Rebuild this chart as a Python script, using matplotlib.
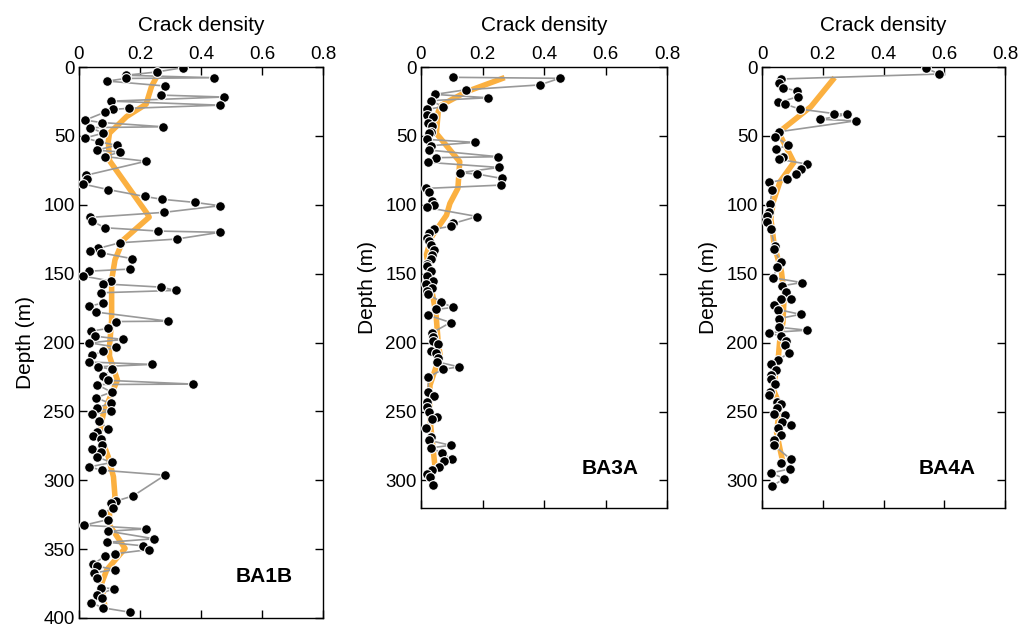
import matplotlib
matplotlib.use("Agg")
import matplotlib.pyplot as plt

plt.rcParams['font.family'] = ['Liberation Sans', 'DejaVu Sans']

# ---------------- data ----------------
ba1b_depth = [0.5, 3.6, 6, 7.8, 8.3, 10.2, 13.8, 20.4, 21.8, 24.8, 27.7, 30, 30.8, 32.8, 38.6, 40.3,
              43.4, 44, 48, 51.5, 54.4, 56.8, 60.4, 61.7, 65, 68.4, 78.6, 81.3, 85, 89, 94, 96,
              98.3, 100.7, 105.5, 109.2, 111.8, 116.7, 119.1, 120, 124.9, 127.6, 131.7, 133.4,
              134.8, 139.2, 146.7, 148.2, 151.8, 155.4, 157.4, 159.8, 162.2, 163.9, 171.4, 173.6,
              177.9, 184.5, 184.8, 189.8, 191.8, 195.4, 197.8, 200.2, 203.3, 206.3, 209.4, 214.2,
              215.9, 217.6, 219.6, 224.2, 227.5, 230.2, 230.5, 236, 240.2, 244.2, 247.4, 249.8,
              252.2, 256.8, 263.1, 264.8, 268, 270.4, 274.5, 277.4, 279.4, 283, 287.1, 290.3,
              292.7, 296.3, 311.3, 315.2, 316.2, 320.5, 324.1, 328.5, 332.6, 335.3, 337, 342.5,
              345, 347.6, 350.3, 353.4, 355.1, 360.9, 362.4, 364.8, 367.2, 370.6, 377.9, 378.8,
              383, 385.6, 388.8, 392.6, 395.8]
ba1b_crack = [0.34, 0.255, 0.154, 0.443, 0.154, 0.093, 0.283, 0.268, 0.475, 0.104, 0.462, 0.164,
              0.11, 0.085, 0.02, 0.074, 0.276, 0.036, 0.08, 0.02, 0.067, 0.123, 0.058, 0.134,
              0.085, 0.22, 0.023, 0.025, 0.014, 0.096, 0.216, 0.271, 0.38, 0.462, 0.28, 0.036,
              0.042, 0.085, 0.26, 0.462, 0.32, 0.134, 0.063, 0.036, 0.071, 0.175, 0.167, 0.034,
              0.014, 0.105, 0.078, 0.269, 0.317, 0.071, 0.078, 0.034, 0.056, 0.291, 0.12, 0.096,
              0.038, 0.052, 0.145, 0.034, 0.12, 0.078, 0.044, 0.034, 0.238, 0.063, 0.109, 0.08,
              0.096, 0.375, 0.058, 0.107, 0.055, 0.104, 0.058, 0.104, 0.044, 0.066, 0.096, 0.058,
              0.047, 0.072, 0.077, 0.044, 0.072, 0.058, 0.107, 0.034, 0.074, 0.282, 0.178, 0.12,
              0.104, 0.113, 0.074, 0.096, 0.017, 0.22, 0.096, 0.247, 0.093, 0.209, 0.23, 0.118,
              0.085, 0.047, 0.058, 0.118, 0.05, 0.058, 0.071, 0.115, 0.06, 0.077, 0.039, 0.078,
              0.167]
ba1b_mean_depth = [7, 14, 27, 36, 48, 54, 68, 106, 109, 125.6, 140, 154.6, 169, 183.7, 203, 210,
                   227.3, 237, 251.5, 266, 283, 297.5, 312, 324, 332.6, 349.5, 365, 375, 392]
ba1b_mean_crack = [0.255, 0.238, 0.22, 0.156, 0.1, 0.096, 0.1, 0.222, 0.23, 0.145, 0.118, 0.107,
                   0.107, 0.107, 0.1, 0.1, 0.126, 0.107, 0.08, 0.067, 0.096, 0.113, 0.118, 0.1,
                   0.1, 0.151, 0.091, 0.074, 0.085]

ba3a_depth = [7.5, 8.2, 13, 16.5, 19.9, 22.3, 24.4, 28.8, 30.7, 34.9, 36.3, 40.4, 42.8, 47, 48.2,
              52.5, 54.7, 57.1, 60.3, 65.1, 65.8, 69.2, 72.9, 76.7, 77.7, 80.9, 85.7, 88.1, 90.8,
              97.3, 100.2, 101.9, 108.5, 113.5, 115.5, 117.7, 120.1, 124.4, 126.1, 129.3, 133,
              136.1, 139, 142.6, 144.3, 148.2, 151.5, 155.4, 157.8, 160.2, 162.4, 164.8, 170.4,
              174.5, 175.9, 180.1, 185.4, 193, 195.8, 198.5, 200.7, 206, 207.5, 211, 214, 217.6,
              219.3, 225, 235.8, 238.4, 243, 246.7, 250.3, 253.9, 255.6, 261.9, 268.5, 270.9,
              274.5, 276.4, 279.8, 284.7, 286.1, 290.2, 292.2, 295, 297.5, 303.6]
ba3a_crack = [0.105, 0.451, 0.386, 0.146, 0.045, 0.218, 0.032, 0.072, 0.021, 0.021, 0.04, 0.023,
              0.035, 0.031, 0.027, 0.018, 0.175, 0.031, 0.027, 0.251, 0.049, 0.024, 0.254, 0.126,
              0.183, 0.264, 0.259, 0.016, 0.027, 0.035, 0.042, 0.018, 0.183, 0.105, 0.099, 0.042,
              0.027, 0.021, 0.027, 0.031, 0.042, 0.035, 0.031, 0.018, 0.021, 0.031, 0.018, 0.038,
              0.016, 0.035, 0.018, 0.024, 0.064, 0.103, 0.049, 0.024, 0.096, 0.035, 0.038, 0.04,
              0.056, 0.033, 0.049, 0.056, 0.053, 0.124, 0.072, 0.024, 0.024, 0.042, 0.018, 0.021,
              0.027, 0.053, 0.035, 0.016, 0.031, 0.027, 0.096, 0.031, 0.067, 0.102, 0.076, 0.059,
              0.035, 0.018, 0.029, 0.04]
ba3a_mean_depth = [7.7, 17.9, 27.6, 32.4, 48.2, 68.7, 88, 99, 107.5, 123, 136, 155.4, 168, 180,
                   200, 209, 231, 255, 289]
ba3a_mean_crack = [0.272, 0.148, 0.067, 0.056, 0.05, 0.126, 0.12, 0.094, 0.083, 0.035, 0.018,
                   0.029, 0.04, 0.049, 0.056, 0.062, 0.029, 0.029, 0.045]

ba4a_depth = [1, 5.1, 8.7, 11.4, 15, 17.4, 21.5, 25.7, 26.9, 30.5, 33.8, 34.4, 38, 39, 47, 50.6,
              56.6, 59.8, 65.1, 67, 70.4, 74.1, 77.7, 81.3, 83.8, 89.3, 99.5, 105.5, 108.2, 112.3,
              117.9, 129.8, 132.4, 141.4, 145, 153, 156.4, 158.8, 163.2, 168, 168.5, 172.9, 176,
              179.5, 182.6, 188.8, 191, 192.7, 195.4, 198.8, 201.4, 207.2, 212.8, 215.7, 219.6,
              223.2, 226.1, 230.2, 235.8, 238.2, 243, 244.2, 247.4, 252, 252.3, 257.6, 260, 262,
              267.2, 270.4, 274.5, 284.7, 287.3, 291.5, 294.6, 298.7, 304]
ba4a_crack = [0.541, 0.584, 0.062, 0.055, 0.069, 0.116, 0.12, 0.053, 0.075, 0.124, 0.237, 0.281,
              0.192, 0.31, 0.056, 0.044, 0.086, 0.046, 0.069, 0.056, 0.148, 0.127, 0.113, 0.082,
              0.024, 0.034, 0.026, 0.023, 0.018, 0.018, 0.029, 0.042, 0.04, 0.061, 0.05, 0.037,
              0.131, 0.066, 0.08, 0.096, 0.064, 0.039, 0.053, 0.127, 0.055, 0.055, 0.147, 0.023,
              0.061, 0.08, 0.077, 0.089, 0.053, 0.031, 0.045, 0.029, 0.031, 0.042, 0.026, 0.023,
              0.048, 0.062, 0.051, 0.039, 0.075, 0.067, 0.095, 0.053, 0.061, 0.04, 0.039, 0.095,
              0.061, 0.093, 0.031, 0.072, 0.034]
ba4a_mean_depth = [7.7, 28.8, 45.8, 50.6, 69.2, 83.3, 97.8, 110, 129, 148.6, 165.6, 185, 199.5,
                   212.8, 233.4, 245.6, 265, 277, 290]
ba4a_mean_crack = [0.239, 0.161, 0.064, 0.062, 0.105, 0.059, 0.037, 0.029, 0.04, 0.064, 0.073,
                   0.069, 0.058, 0.053, 0.036, 0.059, 0.048, 0.059, 0.072]

site_names = ["BA1B", "BA3A", "BA4A"]
x_ticks = [0, 0.2, 0.4, 0.6, 0.8]
x_ticklabels = ["0", "0.2", "0.4", "0.6", "0.8"]

# ---------------- figure ----------------
W, H = 1019, 624
fig = plt.figure(figsize=(W / 100, H / 100), dpi=100)

def frac(l, t, r, b):
    return [l / W, 1 - b / H, (r - l) / W, (b - t) / H]

panels = [
    (frac(79, 67, 323, 618), ba1b_depth, ba1b_crack, ba1b_mean_depth, ba1b_mean_crack, 400, (0.76, 0.075)),
    (frac(421, 67, 667, 508), ba3a_depth, ba3a_crack, ba3a_mean_depth, ba3a_mean_crack, 320, (0.77, 0.09)),
    (frac(762, 67, 1005, 508), ba4a_depth, ba4a_crack, ba4a_mean_depth, ba4a_mean_crack, 320, (0.76, 0.09)),
]

for name, (rect, dep, cr, mdep, mcr, ymax, lblpos) in zip(site_names, panels):
    ax = fig.add_axes(rect)
    ax.plot(mcr, mdep, color='#FBB040', lw=4.0, solid_capstyle='butt', zorder=2)
    ax.plot(cr, dep, color='#999999', lw=1.2, zorder=3)
    ax.plot(cr, dep, ls='none', marker='o', ms=7.0, mfc='black', mec='white', mew=0.8, zorder=4)
    ax.set_xlim(0, 0.8)
    ax.set_ylim(ymax, 0)
    ax.set_yticks(list(range(0, ymax + 1, 50)))
    ax.set_xticks(x_ticks)
    ax.set_xticklabels(x_ticklabels)
    ax.xaxis.tick_top()
    ax.xaxis.set_label_position('top')
    ax.tick_params(axis='both', which='both', direction='in', length=6, width=1,
                   labelsize=13.5, top=True, bottom=True, left=True, right=True,
                   labeltop=True, labelbottom=False, pad=3)
    ax.set_xlabel('Crack density', fontsize=15, labelpad=11)
    ax.set_ylabel('Depth (m)', fontsize=15, labelpad=6)
    for s in ax.spines.values():
        s.set_linewidth(1.0)
    ax.text(lblpos[0], lblpos[1], name, transform=ax.transAxes, fontsize=15,
            fontweight='bold', ha='center', va='center')

fig.savefig('out.png', dpi=100)
